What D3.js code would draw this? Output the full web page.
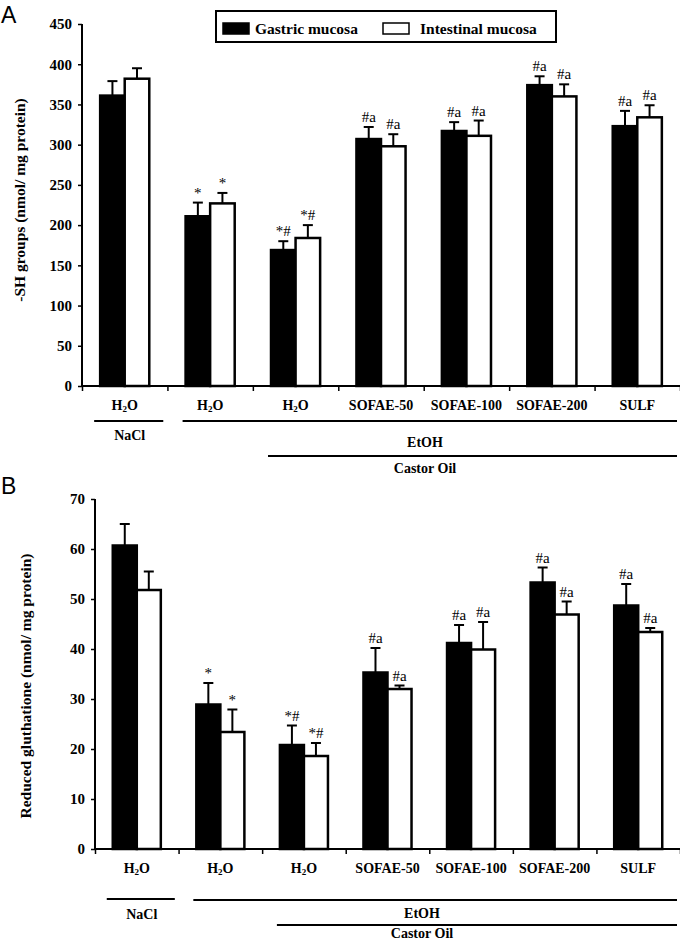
<!DOCTYPE html>
<html><head><meta charset="utf-8">
<script src="https://cdn.jsdelivr.net/npm/d3@7/dist/d3.min.js"></script>
<style>body{margin:0;background:#fff}svg{display:block}</style>
</head><body><svg id="c" width="680" height="941"></svg>
<script>
const categories = ["NaCl H2O","EtOH H2O","Castor H2O","SOFAE-50","SOFAE-100","SOFAE-200","SULF"];
const categoryLabels = ["H2O","H2O","H2O","SOFAE-50","SOFAE-100","SOFAE-200","SULF"];
const seriesNames = ["Gastric mucosa","Intestinal mucosa"];

const shGastric = [361,211,169,307,317,374,323];
const shGastricErr = [18,17,11,15,11,11,19];
const shIntestinal = [382,227,184,298,311,360,334];
const shIntestinalErr = [13,13,16,15,19,15,15];
const shGastricSig = ["","*","*#","#a","#a","#a","#a"];
const shIntestinalSig = ["","*","*#","#a","#a","#a","#a"];
const shTicks = [0,50,100,150,200,250,300,350,400,450];

const gshGastric = [60.7,28.9,20.8,35.3,41.2,53.3,48.7];
const gshGastricErr = [4.3,4.3,3.9,4.9,3.6,3.0,4.3];
const gshIntestinal = [51.8,23.4,18.6,32.0,39.9,46.9,43.4];
const gshIntestinalErr = [3.7,4.5,2.6,0.7,5.5,2.6,0.8];
const gshGastricSig = ["","*","*#","#a","#a","#a","#a"];
const gshIntestinalSig = ["","*","*#","#a","#a","#a","#a"];
const gshTicks = [0,10,20,30,40,50,60,70];

const groupNames = ["NaCl","EtOH","Castor Oil"];

const svg = d3.select("#c");
const SERIF = "'Liberation Serif','Times New Roman',serif";

function drawPanel(o){
  const g = svg.append("g");
  const x = d3.scaleBand().domain(categories).range(o.xr).paddingInner(0.425).paddingOuter(0.2125);
  const x1 = d3.scaleBand().domain(seriesNames).range([0, x.bandwidth()]);
  const y = d3.scaleLinear().domain([0, o.ticks[o.ticks.length-1]]).range(o.yr);
  const ax = o.xr[0];

  // y axis
  const yAxis = d3.axisLeft(y).tickValues(o.ticks).tickSize(4).tickPadding(6);
  const ya = g.append("g").attr("transform",`translate(${ax},0)`).call(yAxis);
  ya.select(".domain").attr("stroke","#000").attr("stroke-width",2).attr("d",`M0,${o.yr[1]}V${o.yr[0]}`);
  ya.selectAll(".tick line").attr("stroke","#000").attr("stroke-width",1.5);
  ya.selectAll(".tick text").attr("font-family",SERIF).attr("font-weight","bold").attr("font-size",15).attr("fill","#000");

  // x axis with boundary ticks
  const step = x.step();
  const bounds = categories.map(c => x(c) - step*x.paddingInner()/2);
  bounds.push(x(categories[categories.length-1]) + x.bandwidth() + step*x.paddingInner()/2);
  const xAxisScale = d3.scaleLinear().domain([0,1]).range([0,1]);
  const xa = g.append("g").attr("transform",`translate(0,${o.yr[0]})`)
    .call(d3.axisBottom(xAxisScale).tickValues(bounds).tickSize(5).tickFormat(""));
  xa.select(".domain").attr("stroke","#000").attr("stroke-width",2).attr("d",`M${ax},0H${o.xr[1]}`);
  xa.selectAll(".tick line").attr("stroke","#000").attr("stroke-width",1.5);

  // bars
  const series = [
    {name:seriesNames[0], vals:o.g, errs:o.ge, sig:o.gs, fill:"#000"},
    {name:seriesNames[1], vals:o.i, errs:o.ie, sig:o.is, fill:"#fff"}
  ];
  series.forEach(s=>{
    const rows = categories.map((c,k)=>({c, v:s.vals[k], e:s.errs[k], sig:s.sig[k]}));
    const bg = g.append("g");
    bg.selectAll("rect").data(rows).join("rect")
      .attr("x", d=>x(d.c)+x1(s.name))
      .attr("y", d=>y(d.v))
      .attr("width", x1.bandwidth())
      .attr("height", d=>y(0)-y(d.v))
      .attr("fill", s.fill).attr("stroke","#000").attr("stroke-width",2.5);
    const cx = d=>x(d.c)+x1(s.name)+x1.bandwidth()/2;
    bg.selectAll("line.e").data(rows).join("line").attr("class","e")
      .attr("x1",cx).attr("x2",cx).attr("y1",d=>y(d.v)).attr("y2",d=>y(d.v+d.e))
      .attr("stroke","#000").attr("stroke-width",2);
    bg.selectAll("line.cap").data(rows).join("line").attr("class","cap")
      .attr("x1",d=>cx(d)-5).attr("x2",d=>cx(d)+5).attr("y1",d=>y(d.v+d.e)).attr("y2",d=>y(d.v+d.e))
      .attr("stroke","#000").attr("stroke-width",2);
    bg.selectAll("text").data(rows.filter(d=>d.sig)).join("text")
      .attr("x",cx).attr("y",d=>y(d.v+d.e)-5)
      .attr("text-anchor","middle").attr("font-family",SERIF).attr("font-size",15).attr("fill","#000")
      .text(d=>d.sig);
  });

  // category labels
  const lab = g.append("g").attr("font-family",SERIF).attr("font-weight","bold").attr("font-size",14).attr("fill","#000");
  categories.forEach((c,k)=>{
    const t = lab.append("text").attr("x", x(c)+x.bandwidth()/2).attr("y", o.labY).attr("text-anchor","middle");
    const L = categoryLabels[k];
    if (L === "H2O"){
      t.append("tspan").text("H");
      t.append("tspan").attr("font-size",9).attr("dy",2).text("2");
      t.append("tspan").attr("dy",-2).text("O");
    } else t.text(L);
  });

  // group lines
  const gl = g.append("g").attr("stroke","#000").attr("stroke-width",2);
  const c0 = x(categories[0]), c1 = x(categories[1]), c2 = x(categories[2]);
  const endX = o.xr[1]-3;
  gl.append("line").attr("x1",c0-6).attr("x2",c0+x.bandwidth()+14).attr("y1",o.line1).attr("y2",o.line1);
  gl.append("line").attr("x1",c1-3).attr("x2",endX).attr("y1",o.line1b).attr("y2",o.line1b);
  gl.append("line").attr("x1",c2-3).attr("x2",endX).attr("y1",o.line2).attr("y2",o.line2);
  const gt = g.append("g").attr("font-family",SERIF).attr("font-weight","bold").attr("font-size",14).attr("fill","#000").attr("text-anchor","middle");
  gt.append("text").attr("x",c0+x.bandwidth()/2+5).attr("y",o.nY).text(groupNames[0]);
  gt.append("text").attr("x",o.gX).attr("y",o.eY).text(groupNames[1]);
  gt.append("text").attr("x",o.gX).attr("y",o.cY).text(groupNames[2]);

  // y title
  g.append("text").attr("transform",`translate(${o.tX},${o.tY}) rotate(-90)`)
    .attr("text-anchor","middle").attr("font-family",SERIF).attr("font-weight","bold").attr("font-size",15.5).attr("fill","#000")
    .text(o.title);

  // panel letter
  g.append("text").attr("x",1).attr("y",o.letY).attr("font-family","'Liberation Sans',Arial,sans-serif").attr("font-size",23).attr("fill","#000").text(o.letter);
}

drawPanel({xr:[82,680], yr:[386,24], ticks:shTicks, g:shGastric, ge:shGastricErr, i:shIntestinal, ie:shIntestinalErr,
  gs:shGastricSig, is:shIntestinalSig, labY:410, line1:421, line1b:421, line2:456, nY:440, eY:447, cY:473, gX:425,
  title:"-SH groups (nmol/ mg protein)", tX:25, tY:200, letter:"A", letY:23});

drawPanel({xr:[95,680], yr:[849,499], ticks:gshTicks, g:gshGastric, ge:gshGastricErr, i:gshIntestinal, ie:gshIntestinalErr,
  gs:gshGastricSig, is:gshIntestinalSig, labY:873, line1:899, line1b:900, line2:925, nY:919, eY:918, cY:938, gX:422,
  title:"Reduced gluthatione (nmol/ mg protein)", tX:31, tY:686, letter:"B", letY:494});

// legend
const lg = svg.append("g");
lg.append("rect").attr("x",216).attr("y",11).attr("width",340).attr("height",31).attr("fill","#fff").attr("stroke","#000").attr("stroke-width",2);
const legItems = [{name:seriesNames[0], fill:"#000", sx:223, tx:255},{name:seriesNames[1], fill:"#fff", sx:383, tx:420}];
legItems.forEach(d=>{
  lg.append("rect").attr("x",d.sx).attr("y",23).attr("width",26).attr("height",11).attr("fill",d.fill).attr("stroke","#000").attr("stroke-width",1.5);
  lg.append("text").attr("x",d.tx).attr("y",34).attr("font-family",SERIF).attr("font-weight","bold").attr("font-size",15.5).attr("fill","#000").text(d.name);
});
</script></body></html>
